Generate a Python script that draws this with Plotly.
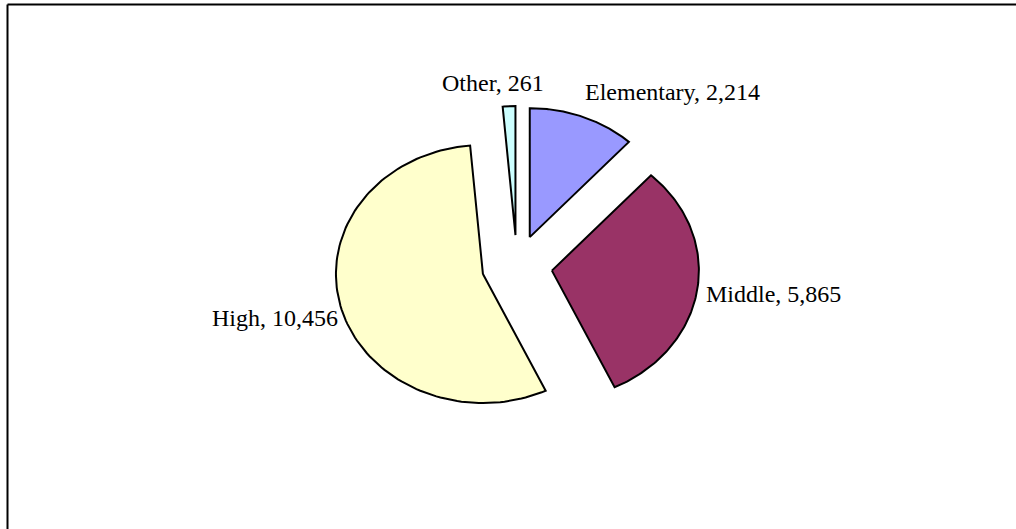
import numpy as np
import plotly.graph_objects as go

categories = ["Elementary", "Middle", "High", "Other"]
values = [2214, 5865, 10456, 261]
tick_labels = ["Elementary, 2,214", "Middle, 5,865", "High, 10,456", "Other, 261"]

colors = ["#9999FF", "#993366", "#FFFFCC", "#CCFFFF"]
explode = 0.24
# label layout: xanchor and pixel shifts (style only)
lab_xanchor = ["left", "left", "right", "center"]
lab_xshift = [0, 7, -1, -16]
lab_yshift = [25, -4, -10, 23]

W, H = 1016, 529
cx_px, cy_px = 517, 266
rx_px, ry_px = 147, 129

total = float(sum(values))
fig = go.Figure()
annotations = []
start = 0.0
for i, v in enumerate(values):
    span = v / total * 2 * np.pi
    end = start + span
    mid = (start + end) / 2
    ox, oy = explode * np.sin(mid), explode * np.cos(mid)
    t = np.linspace(start, end, 120)
    xs = np.concatenate([[ox], ox + np.sin(t), [ox]])
    ys = np.concatenate([[oy], oy + np.cos(t), [oy]])
    fig.add_trace(go.Scatter(x=xs, y=ys, mode="lines", fill="toself",
                             fillcolor=colors[i],
                             line=dict(color="black", width=2),
                             hoverinfo="text", text=tick_labels[i],
                             showlegend=False, name=categories[i]))
    annotations.append(dict(x=ox + np.sin(mid), y=oy + np.cos(mid),
                            xref="x", yref="y", text=tick_labels[i],
                            showarrow=False, xanchor=lab_xanchor[i],
                            yanchor="middle", xshift=lab_xshift[i],
                            yshift=lab_yshift[i],
                            font=dict(family="Liberation Serif", size=24,
                                      color="black")))
    start = end

fig.update_layout(
    width=W, height=H,
    margin=dict(l=0, r=0, t=0, b=0),
    paper_bgcolor="white", plot_bgcolor="white",
    dragmode=False,
    xaxis=dict(range=[-cx_px / rx_px, (W - cx_px) / rx_px], visible=False,
               fixedrange=True, showspikes=False),
    yaxis=dict(range=[(cy_px - H) / ry_px, cy_px / ry_px], visible=False,
               fixedrange=True, showspikes=False),
    annotations=annotations,
    shapes=[
        dict(type="rect", xref="paper", yref="paper", layer="above",
             x0=(W - 8) / W, x1=1, y0=0, y1=1 - 6 / H,
             fillcolor="white", line=dict(width=0)),
        dict(type="line", xref="paper", yref="paper",
             x0=7.5 / W, x1=1, y0=1 - 4.5 / H, y1=1 - 4.5 / H,
             line=dict(color="black", width=2)),
        dict(type="line", xref="paper", yref="paper",
             x0=7.5 / W, x1=7.5 / W, y0=0, y1=1 - 4.5 / H,
             line=dict(color="black", width=2)),
    ],
)

fig.write_html(
    "out.html", config={"displayModeBar": False},
    post_script=("document.documentElement.style.overflow='hidden';"
                 "document.body.style.margin='0';"
                 "document.body.style.overflow='hidden';"))
